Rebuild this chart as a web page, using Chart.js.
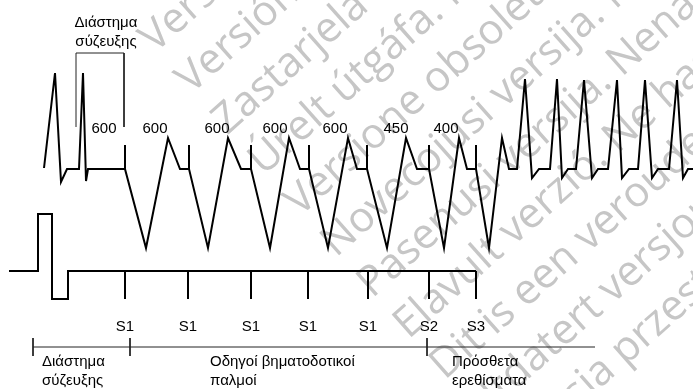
<!DOCTYPE html>
<html lang="el">
<head>
<meta charset="utf-8">
<title>Προγραμματισμένη κοιλιακή διέγερση</title>
<script src="https://cdn.jsdelivr.net/npm/chart.js@4.4.0/dist/chart.umd.min.js"></script>
<style>
  html, body { margin: 0; padding: 0; background: #fff; }
  #wrap { width: 693px; height: 389px; }
</style>
</head>
<body>
<div id="wrap"><canvas id="chart" width="693" height="389"></canvas></div>
<script>
// === Δεδομένα (μονάδες διαγράμματος: οριζόντια = χρόνος, κάθετα = θέση ίχνους) ===

// ΗΚΓ ίχνος (πάνω)
const ecgT = [44, 55, 61, 67, 79, 83, 86, 88, 125, 125, 125,
  146, 168, 180, 189, 189, 189,
  208, 228, 241, 251, 251, 251,
  270, 289, 300, 309, 309, 309,
  328, 348, 357, 367, 367, 367,
  387, 406, 417, 429, 429, 429,
  444, 459, 467, 476, 476, 476,
  489, 502, 509, 517,
  525, 532, 539, 550,
  557, 562, 568, 576,
  584, 592, 598, 608,
  617, 622, 629, 638,
  645, 652, 658, 669,
  677, 683, 688, 693];
const ecgV = [168, 73, 182, 169, 169, 73, 181, 169, 169, 145, 169,
  248, 138, 169, 169, 145, 169,
  248, 138, 169, 169, 145, 169,
  248, 138, 169, 169, 145, 169,
  248, 138, 169, 169, 145, 169,
  248, 138, 169, 169, 145, 169,
  248, 138, 169, 169, 145, 169,
  248, 138, 169, 169,
  79, 178, 169, 169,
  79, 178, 169, 169,
  80, 178, 169, 169,
  80, 178, 169, 169,
  80, 178, 169, 169,
  80, 178, 169, 169];

// Ίχνος ερεθισμάτων (κάτω)
const stimTraceT = [9, 38, 38, 52, 52, 68, 68, 476];
const stimTraceV = [271, 271, 214, 214, 299, 299, 271, 271];
const stimT = [125, 188, 251, 308, 368, 429, 476];
const stimNames = ['S1', 'S1', 'S1', 'S1', 'S1', 'S2', 'S3'];

// Διαστήματα (ms)
const intervalNames = ['600', '600', '600', '600', '600', '450', '400'];
const intervalT = [104, 155, 217, 275, 335, 396, 446];

// Άγκιστρο διαστήματος σύζευξης
const bracketT = [76, 76, 124, 124];
const bracketV = [127, 53, 53, 127];

// Χρονική γραμμή φάσεων
const timelineT = [33, 595];
const phaseT = [33, 130, 427];
const phaseNames = [['Διάστημα', 'σύζευξης'], ['Οδηγοί βηματοδοτικοί', 'παλμοί'], ['Πρόσθετα', 'ερεθίσματα']];
const phaseLabelT = [42, 210, 452];

const wmLines = [
  'Version obsolète. Ne pas utiliser.',
  'Versión obsoleta. No utilizar.',
  'Zastarjela verzija. Nemojte koristiti.',
  'Úrelt útgáfa. Notið ekki.',
  'Versione obsoleta. Non usare.',
  'Novecojusi versija. Nelietot.',
  'Pasenusi versija. Nenaudokite.',
  'Elavult verzió. Ne használja.',
  'Dit is een verouderde versie.',
  'Utdatert versjon. Skal ikke brukes.',
  'Wersja przestarzała. Nie stosować.'
];

function toPoints(xs, ys) {
  return xs.map((x, i) => ({ x: x, y: ys[i] }));
}

// tick marks with gaps between them
function ticks(xs, y0, y1) {
  const pts = [];
  xs.forEach(x => {
    pts.push({ x: x, y: y0 }, { x: x, y: y1 }, { x: x, y: NaN });
  });
  return pts;
}

const thick = { borderColor: '#000', borderWidth: 2, pointRadius: 0, showLine: true, fill: false, tension: 0, borderJoinStyle: 'miter' };
const thin = { borderColor: '#222', borderWidth: 1, pointRadius: 0, showLine: true, fill: false, tension: 0 };

// === Υδατογράφημα ===
const watermark = {
  id: 'watermark',
  beforeDatasetsDraw(chart) {
    const ctx = chart.ctx;
    const ang = -41.6 * Math.PI / 180;
    const ux = Math.cos(ang), uy = Math.sin(ang);
    const vx = -uy, vy = ux;
    ctx.save();
    ctx.font = '42px "Open Sans"';
    ctx.fillStyle = '#c6c6c6';
    ctx.textBaseline = 'alphabetic';
    wmLines.forEach((line, k) => {
      const t = 80, n = 143 + k * 54.6;
      ctx.save();
      ctx.translate(t * ux + n * vx, t * uy + n * vy);
      ctx.rotate(ang);
      ctx.fillText(line, 0, 0);
      ctx.restore();
    });
    ctx.restore();
  }
};

// === Κείμενα ===
const labels = {
  id: 'labels',
  afterDatasetsDraw(chart) {
    const ctx = chart.ctx;
    const xs = chart.scales.x, ys = chart.scales.y;
    const put = (txt, x, y, align) => {
      ctx.textAlign = align;
      ctx.fillText(txt, xs.getPixelForValue(x), ys.getPixelForValue(y));
    };
    ctx.save();
    ctx.font = '15px "Liberation Sans", Arial, sans-serif';
    ctx.fillStyle = '#000';
    ctx.textBaseline = 'alphabetic';
    put('Διάστημα', 106, 27, 'center');
    put('σύζευξης', 106, 46, 'center');
    intervalNames.forEach((s, i) => put(s, intervalT[i], 133, 'center'));
    stimNames.forEach((s, i) => put(s, stimT[i], 331, 'center'));
    phaseNames.forEach((lines, i) => {
      put(lines[0], phaseLabelT[i], 366, 'left');
      put(lines[1], phaseLabelT[i], 385, 'left');
    });
    ctx.restore();
  }
};

new Chart(document.getElementById('chart'), {
  type: 'scatter',
  data: {
    datasets: [
      Object.assign({ label: 'ΗΚΓ', data: toPoints(ecgT, ecgV) }, thick),
      Object.assign({ label: 'Ερεθίσματα', data: toPoints(stimTraceT, stimTraceV) }, thick),
      Object.assign({ label: 'S', data: ticks(stimT, 271, 299), spanGaps: false }, thick),
      Object.assign({ label: 'Άγκιστρο', data: toPoints(bracketT, bracketV) }, thin),
      Object.assign({ label: 'Χρονική γραμμή', data: toPoints(timelineT, [347, 347]) }, thin),
      Object.assign({ label: 'Φάσεις', data: ticks(phaseT, 338, 356), spanGaps: false }, thin)
    ]
  },
  options: {
    responsive: false,
    animation: false,
    layout: { padding: 0 },
    scales: {
      x: { type: 'linear', min: 0, max: 693, display: false },
      y: { type: 'linear', min: 0, max: 389, reverse: true, display: false }
    },
    plugins: { legend: { display: false }, tooltip: { enabled: false } }
  },
  plugins: [watermark, labels]
});
</script>
</body>
</html>
